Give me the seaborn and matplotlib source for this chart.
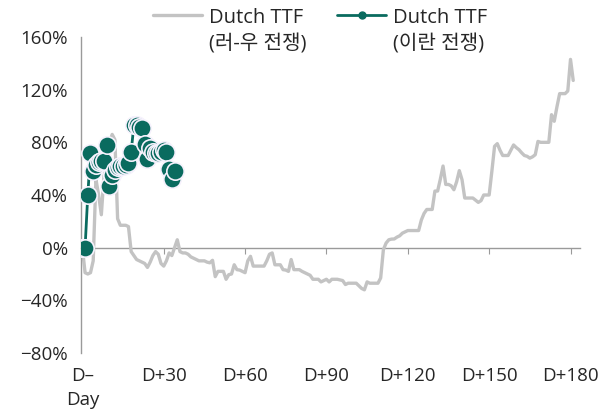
import matplotlib
matplotlib.use("Agg")
import matplotlib.pyplot as plt
import seaborn as sns
from matplotlib.lines import Line2D

# Dutch TTF change vs. D-Day (%), Russia-Ukraine war, day 0..181
ukr_pct = [
    0, -19, -20, -19, -10, 52, 40, 25, 55, 62,
    80, 86, 82, 22, 17, 17, 17, 16, -3, -6,
    -9, -10, -11, -12, -15, -11, -6, -3, -5, -12,
    -14, -10, -4, -6, 0, 6, -3, -4, -4, -5,
    -7, -8, -9, -10, -10, -10, -11, -11.5, -9.6, -22,
    -18, -18, -18, -24, -20.5, -20, -13, -16.7, -17, -18,
    -19, -10, -6.6, -14, -14, -14, -14, -14, -10, -5,
    -4, -13, -13, -13, -16.7, -17, -18, -9, -16.7, -16.7,
    -16.7, -18, -19, -20, -21, -24, -24, -24, -26, -25,
    -24, -26, -24, -24, -24, -24.5, -25, -28, -27, -27,
    -27, -27, -29, -31, -32, -26, -27, -27, -27, -27,
    -23, -1.5, 3.5, 6, 6.5, 6.6, 8, 9, 11, 12,
    13, 13, 13, 13, 13, 21, 26, 29, 29, 29,
    43, 43, 52, 62, 48, 48, 47, 44, 50, 58.5,
    51.6, 37.7, 37.7, 37.7, 37.7, 36, 34.4, 35.7, 40, 40,
    40, 58, 77, 79, 74, 70, 70, 70, 74, 78,
    76, 74.4, 72, 70, 69.4, 68, 69, 70.6, 80.7, 80,
    80, 80, 80, 101, 96, 107, 117, 117, 117, 119,
    143, 127,
]
ukr_days = list(range(len(ukr_pct)))

# Dutch TTF change vs. D-Day (%), Iran war, day 0..34
iran_pct = [
    0, 0, 40, 72, 58, 63, 65, 66, 66, 78,
    47, 55, 59, 61, 62, 62, 63, 64, 73, 93,
    93, 92, 91, 79, 67, 76, 73, 72, 72, 73,
    74, 73, 60, 52, 58,
]
iran_days = list(range(len(iran_pct)))

x_ticks = [0, 30, 60, 90, 120, 150, 180]
x_labels = ["D–\nDay", "D+30", "D+60", "D+90", "D+120", "D+150", "D+180"]
y_ticks = [-80, -40, 0, 40, 80, 120, 160]
y_labels = ["−80%", "−40%", "0%", "40%", "80%", "120%", "160%"]
series_names = ["Dutch TTF\n(러-우 전쟁)", "Dutch TTF\n(이란 전쟁)"]

gray = "#c3c3c3"
teal = "#0a6b5f"
axis_gray = "#9a9a9a"
text_color = "#262626"

sns.set_style("white")
plt.rcParams["font.family"] = ["Open Sans", "Noto Sans CJK KR", "DejaVu Sans"]
plt.rcParams["font.size"] = 13.5
plt.rcParams["text.color"] = text_color

fig, ax = plt.subplots(figsize=(6.11, 4.12), dpi=100)
fig.subplots_adjust(left=81 / 611, right=580 / 611, top=1 - 37 / 412, bottom=1 - 353 / 412)

sns.lineplot(x=ukr_days, y=ukr_pct, ax=ax, color=gray, linewidth=2.4, legend=False, zorder=2)
sns.lineplot(x=iran_days, y=iran_pct, ax=ax, color=teal, linewidth=2, marker="o",
             markersize=12.5, markeredgecolor="#f6f2fd", markeredgewidth=1.2,
             legend=False, zorder=3)

ax.set_xlim(-0.5, 183.5)
ax.set_ylim(-80, 160)
ax.set_yticks(y_ticks, labels=y_labels)
ax.set_xticks(x_ticks, labels=x_labels)
ax.set_xlabel("")
ax.set_ylabel("")

for side in ["top", "right", "bottom"]:
    ax.spines[side].set_visible(False)
ax.spines["left"].set_color(axis_gray)
ax.spines["left"].set_linewidth(1)
ax.tick_params(axis="y", length=4, color=axis_gray, labelcolor=text_color, pad=5.5)
ax.tick_params(axis="x", length=0, labelcolor=text_color, pad=10)
for lbl in ax.get_xticklabels():
    lbl.set_linespacing(1.45)

# zero line with its own tick marks
zero_axis = ax.secondary_xaxis(80 / 240)
zero_axis.set_xticks(x_ticks)
zero_axis.tick_params(axis="x", length=4, color=axis_gray, labelbottom=False)
zero_axis.spines["bottom"].set_color(axis_gray)
zero_axis.spines["bottom"].set_linewidth(1)

handles = [
    Line2D([], [], color=gray, linewidth=2.4),
    Line2D([], [], color=teal, linewidth=2, marker="o", markersize=5),
]
leg = ax.legend(handles, series_names, loc="upper center", bbox_to_anchor=(0.524, 1.0),
                bbox_transform=fig.transFigure, ncol=2, frameon=False, fontsize=14.5,
                handlelength=2.45, handletextpad=0.35, columnspacing=1.5, borderaxespad=0.0)
for t in leg.get_texts():
    t.set_linespacing(1.45)
# put the legend line next to the first text line
for col in leg._legend_handle_box.get_children():
    for row in col.get_children():
        row.align = "top"

plt.savefig("out.png", dpi=100)
